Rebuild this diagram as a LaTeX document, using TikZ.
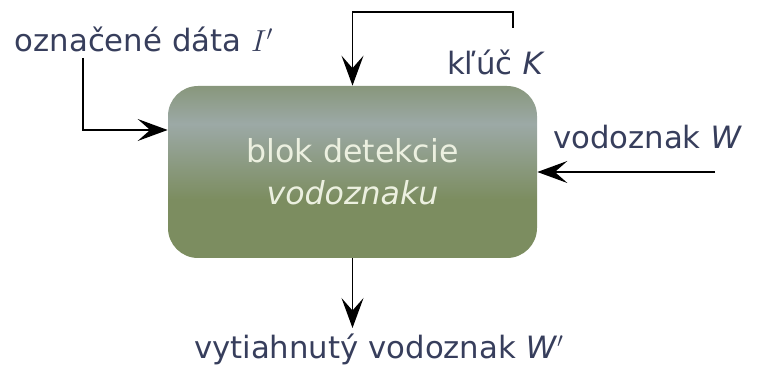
\documentclass[tikz,border=0pt]{standalone}
\usepackage{fontspec}
\setsansfont{DejaVu Sans}
\usepackage{tikz}
\usetikzlibrary{arrows.meta, positioning, calc}
\definecolor{labelslate}{RGB}{55, 62, 92}
\definecolor{blokbot}{RGB}{124, 141, 96}
\definecolor{blokmid}{RGB}{156, 169, 166}
\definecolor{bloktop}{RGB}{136, 151, 124}
\definecolor{blokfont}{RGB}{236, 240, 224}
\pgfdeclareverticalshading{blokshade}{100bp}{color(0bp)=(blokbot); color(25bp)=(blokbot); color(42bp)=(blokbot); color(64bp)=(blokmid); color(75bp)=(bloktop); color(100bp)=(bloktop)}
\tikzset{
  >=Stealth,
  flowarrow/.style={-{Stealth[length=6mm, width=4.4mm, inset=2.5mm]}, line width=0.8pt, black},
  flowline/.style={line width=0.8pt, black}
}

\begin{document}
\begin{tikzpicture}[
    blokbox/.style={rounded corners=0.6cm, shading=blokshade, draw=none, minimum width=7.38cm, minimum height=3.44cm, align=center, text=blokfont, font=\sffamily\fontsize{18}{24}\selectfont},
    lbl/.style={text=labelslate, inner sep=0pt, font=\sffamily\fontsize{17.5}{21}\selectfont}]

    \useasboundingbox (0, 0) rectangle (15.24, 7.36);

    % Detection block
    \node[blokbox] (blok) at (7.05, 3.92) {blok detekcie\\\textit{vodoznaku}};

    % Labels
    \node[lbl] (dataIn) at (2.88, 6.58) {označené dáta $I'$};
    \node[lbl] (kluc) at (9.92, 6.12) {kľúč \textit{K}};
    \node[lbl] (wIn) at (12.95, 4.62) {vodoznak \textit{W}};
    \node[lbl] (wOut) at (7.58, 0.38) {vytiahnutý vodoznak \textit{W}$'$};

    % Bend points
    \coordinate (iStart) at (1.66, 6.20);
    \coordinate (iTurn) at (1.66, 4.76);
    \coordinate (kStart) at (10.26, 6.80);
    \coordinate (kTop) at (10.26, 7.12);
    \coordinate (wStart) at (14.30, 3.92);
    \coordinate (oEnd) at (7.05, 0.80);

    % Inputs
    \draw[flowarrow] (iStart) -- (iTurn) -- (iTurn -| blok.west);
    \draw[flowarrow] (kStart) -- (kTop) -| (blok.north);
    \draw[flowarrow] (wStart) -- (blok.east);

    % Output
    \draw[flowarrow] (blok.south) -- (oEnd);

\end{tikzpicture}
\end{document}
